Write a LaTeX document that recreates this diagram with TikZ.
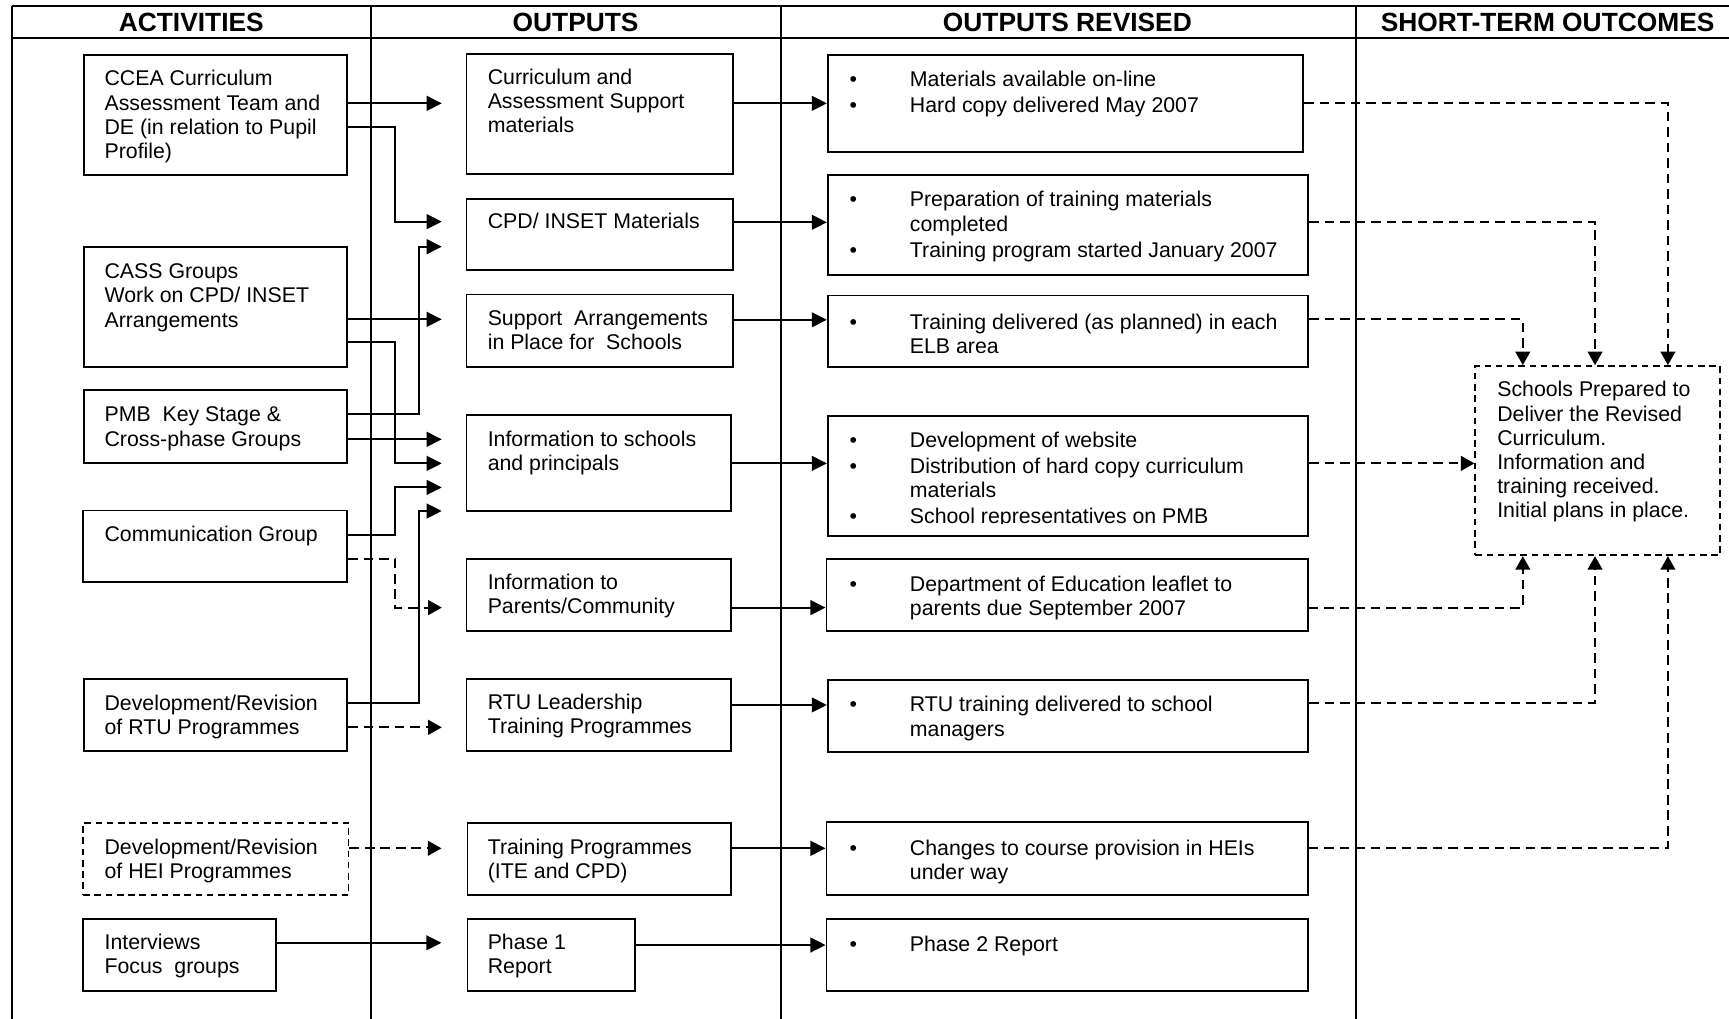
\documentclass[tikz,border=0pt]{standalone}
\usepackage{fontspec}
\setmainfont{Liberation Sans}
\usetikzlibrary{arrows.meta,fit}
\newcommand\orbul{\makebox[31.1pt][l]{•}}
\newcommand\orind{\hspace*{31.1pt}}
\begin{document}
\begin{tikzpicture}[x=0.02cm,y=-0.02cm,
  gridline/.style={line width=0.85pt},
  headline/.style={line width=1.15pt},
  box/.style={draw, line width=0.95pt, inner sep=0pt},
  dbox/.style={box, dash pattern=on 3.4pt off 2.4pt},
  txt/.style={anchor=north west, inner sep=0pt, align=left, font=\fontsize{11pt}{12.5pt}\selectfont},
  head/.style={inner sep=0pt, font=\fontsize{13.6pt}{15pt}\selectfont\bfseries},
  conn/.style={line width=1.1pt, -{Triangle[length=7.8pt,width=7.6pt]}},
  dconn/.style={line width=1pt, dash pattern=on 5pt off 3pt, -{Triangle[length=7pt,width=7.6pt]}},
  gapA/.style={shorten >=12.25pt},
  gapB/.style={shorten >=13pt},
]
\useasboundingbox (0,0) rectangle (1568,924);

% ---------- frame ----------
\draw[headline] (10.6,5.4) -- (1568,5.4);
\draw[headline] (10.6,34.8) -- (1568,34.8);
\draw[gridline] (10.6,5.4) -- (10.6,924);
\draw[gridline] (336.4,5.4) -- (336.4,924);
\draw[gridline] (708,5.4) -- (708,924);
\draw[gridline] (1229.5,5.4) -- (1229.5,924);

\node[head] (h1) at (173.5,20.3) {ACTIVITIES};
\node[head] (h2) at (522,20.3) {OUTPUTS};
\node[head] (h3) at (968,20.3) {OUTPUTS REVISED};
\node[head] (h4) at (1403.5,20.3) {SHORT-TERM OUTCOMES};

% ---------- activities ----------
\node[box, fit={(76,50) (315,159)}] (ccea) {};
\node[box, fit={(76,224) (315,333)}] (cass) {};
\node[box, fit={(76,354) (315,420)}] (pmb) {};
\node[box, fit={(75,463) (315,528)}] (comm) {};
\node[box, fit={(76,616) (315,681)}] (rtudev) {};
\node[dbox, fit={(75.5,746) (316,812)}] (hei) {};
\node[box, fit={(75.5,833.5) (250,899)}] (intv) {};

\node[txt] (ccea-t) at (94.5,62.1) {\strut CCEA Curriculum\\Assessment Team and\\DE (in relation to Pupil\\Profile)};
\node[txt] (cass-t) at (94.5,236.9) {\strut CASS Groups\\Work on CPD/ INSET\\Arrangements};
\node[txt] (pmb-t) at (94.5,366.9) {\strut PMB\ \ Key Stage \&\\Cross-phase Groups};
\node[txt] (comm-t) at (94.5,475.1) {\strut Communication Group};
\node[txt] (rtudev-t) at (94.5,628.3) {\strut Development/Revision\\of RTU Programmes};
\node[txt] (hei-t) at (94.5,758.9) {\strut Development/Revision\\of HEI Programmes};
\node[txt] (intv-t) at (94.5,845.4) {\strut Interviews\\Focus\ \ groups};

% ---------- outputs ----------
\node[box, fit={(423,49) (665,158)}] (o1) {};
\node[box, fit={(423,180.5) (665,245)}] (o2) {};
\node[box, fit={(423,267) (665,332.5)}] (o3) {};
\node[box, fit={(423,376.4) (663,463.4)}] (o4) {};
\node[box, fit={(423,507) (663,572)}] (o5) {};
\node[box, fit={(423,616) (663,681)}] (o6) {};
\node[box, fit={(424,746) (663,812)}] (o7) {};
\node[box, fit={(424,833.5) (576,899)}] (o8) {};

\node[txt] (o1-t) at (442,60.6) {\strut Curriculum and\\Assessment Support\\materials};
\node[txt] (o2-t) at (442,191.5) {\strut CPD/ INSET Materials};
\node[txt] (o3-t) at (442,279.2) {\strut Support\ \ Arrangements\\in Place for\ \ Schools};
\node[txt] (o4-t) at (442,388.9) {\strut Information to schools\\and principals};
\node[txt] (o5-t) at (442,518.6) {\strut Information to\\Parents/Community};
\node[txt] (o6-t) at (442,627.7) {\strut RTU Leadership\\Training Programmes};
\node[txt] (o7-t) at (442,758.9) {\strut Training Programmes\\(ITE and CPD)};
\node[txt] (o8-t) at (442,845.4) {\strut Phase 1\\Report};

% ---------- outputs revised ----------
\node[box, fit={(750.7,50) (1182,137.6)}] (or1) {};
\node[box, fit={(750.7,158.7) (1186.5,249.7)}] (or2) {};
\node[box, fit={(750.7,268) (1186.5,332.5)}] (or3) {};
\node[box, fit={(750.7,377) (1186.5,485.8)}] (or4) {};
\node[box, fit={(749.5,507) (1186,572)}] (or5) {};
\node[box, fit={(750.7,616.7) (1186.5,681.7)}] (or6) {};
\node[box, fit={(749.5,745.6) (1186,811.6)}] (or7) {};
\node[box, fit={(749.5,833.5) (1186,899)}] (or8) {};

\node[txt] (or1-t) at (770.2,63) {\strut\orbul Materials available on-line\\[1pt]\orbul Hard copy delivered May 2007};
\node[txt] (or2-t) at (770.2,171.9) {\strut\orbul Preparation of training materials\\\orind completed\\[1.2pt]\orbul Training program started January 2007};
\node[txt] (or3-t) at (770.2,283.1) {\strut\orbul Training delivered (as planned) in each\\\orind ELB area};
\begin{scope}
\clip (745,380) rectangle (1190,474.6);
\node[txt] (or4-t) at (770.2,390.5) {\strut\orbul Development of website\\[0.7pt]\orbul Distribution of hard copy curriculum\\\orind materials\\[0.7pt]\orbul School representatives on PMB};
\end{scope}
\node[txt] (or5-t) at (770.2,520.4) {\strut\orbul Department of Education leaflet to\\\orind parents due September 2007};
\node[txt] (or6-t) at (770.2,629.8) {\strut\orbul RTU training delivered to school\\\orind managers};
\node[txt] (or7-t) at (770.2,759.8) {\strut\orbul Changes to course provision in HEIs\\\orind under way};
\node[txt] (or8-t) at (770.2,847.5) {\strut\orbul Phase 2 Report};

% ---------- short-term outcome ----------
\node[dbox, fit={(1338,332) (1560,503.5)}] (out) {};
\node[txt] (out-t) at (1357.5,344.2) {\strut Schools Prepared to\\Deliver the Revised\\Curriculum.\\Information and\\training received.\\Initial plans in place.};

% ---------- activities -> outputs ----------
\draw[conn, gapA] (ccea.east |- 0,93.7) -- (o1.west |- 0,93.7);
\draw[conn, gapA] (ccea.east |- 0,114.9) -| (358.6,201) -- (o2.west |- 0,201);
\draw[conn, gapA] (pmb.east |- 0,375.8) -| (380.3,223.7) -- (o2.west |- 0,223.7);
\draw[conn, gapA] (cass.east |- 0,289.6) -- (o3.west |- 0,289.6);
\draw[conn, gapA] (cass.east |- 0,310.4) -| (358.6,420.2) -- (o4.west |- 0,420.2);
\draw[conn, gapA] (pmb.east |- 0,398.4) -- (o4.west |- 0,398.4);
\draw[conn, gapA] (comm.east |- 0,484.8) -| (358.6,442) -- (o4.west |- 0,442);
\draw[dconn, gapA] (comm.east |- 0,507) -| (358.6,551) -- (o5.west |- 0,551);
\draw[conn, gapA] (rtudev.east |- 0,637.4) -| (380.3,463.4) -- (o4.west |- 0,463.4);
\draw[dconn, gapA] (rtudev.east |- 0,659.6) -- (o6.west |- 0,659.6);
\draw[dconn, gapB] (hei.east |- 0,769.3) -- (o7.west |- 0,769.3);
\draw[conn, gapB] (intv.east |- 0,855) -- (o8.west |- 0,855);

% ---------- outputs -> outputs revised ----------
\draw[conn] (o1.east |- 0,93.7) -- (or1.west |- 0,93.7);
\draw[conn] (o2.east |- 0,201.6) -- (or2.west |- 0,201.6);
\draw[conn] (o3.east |- 0,290) -- (or3.west |- 0,290);
\draw[conn] (o4.east |- 0,420.2) -- (or4.west |- 0,420.2);
\draw[conn] (o5.east |- 0,551) -- (or5.west |- 0,551);
\draw[conn] (o6.east |- 0,639.3) -- (or6.west |- 0,639.3);
\draw[conn] (o7.east |- 0,769.3) -- (or7.west |- 0,769.3);
\draw[conn] (o8.east |- 0,857) -- (or8.west |- 0,857);

% ---------- outputs revised -> outcome ----------
\draw[dconn] (or1.east |- 0,93.7) -| (out.north -| 1512.6,0);
\draw[dconn] (or2.east |- 0,201) -| (out.north -| 1446.5,0);
\draw[dconn] (or3.east |- 0,289.6) -| (out.north -| 1381,0);
\draw[dconn] (or4.east |- 0,420.2) -- (out.west |- 0,420.2);
\draw[dconn] (or5.east |- 0,551) -| (out.south -| 1381,0);
\draw[dconn] (or6.east |- 0,637.2) -| (out.south -| 1446.5,0);
\draw[dconn] (or7.east |- 0,769.3) -| (out.south -| 1512.6,0);
\end{tikzpicture}
\end{document}
